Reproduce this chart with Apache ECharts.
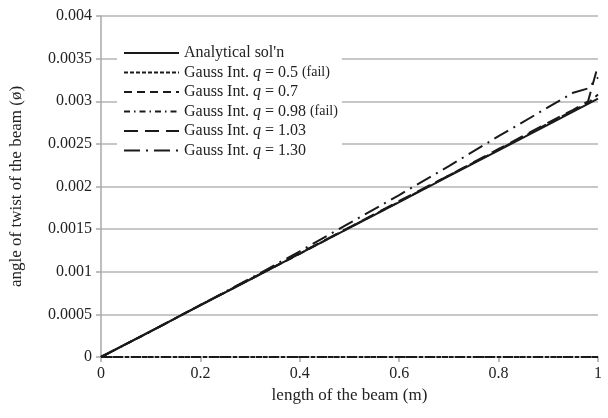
<!DOCTYPE html>
<html><head><meta charset="utf-8">
<script src="https://cdn.jsdelivr.net/npm/echarts@6/dist/echarts.min.js"></script>
<style>html,body{margin:0;padding:0;background:#fff}#c{width:608px;height:418px}</style>
</head><body><div id="c"></div>
<script>
const xs = [0, 0.1, 0.2, 0.3, 0.4, 0.5, 0.6, 0.7, 0.8, 0.9, 0.95, 0.98, 1.0];
const analytical = [0, 0.000303, 0.000606, 0.000909, 0.001212, 0.001515, 0.001818, 0.002121, 0.002424, 0.002727, 0.002879, 0.002969, 0.00303];
const gaussQ050 = [0, 0, 0, 0, 0, 0, 0, 0, 0, 0, 0, 0, 0];
const gaussQ070 = [0, 0.0003, 0.00061, 0.00091, 0.00121, 0.00152, 0.00182, 0.00213, 0.00243, 0.00274, 0.00289, 0.00298, 0.00308];
const gaussQ098 = [0, 0, 0, 0, 0, 0, 0, 0, 0, 0, 0, 0, 0];
const gaussQ103 = [0, 0.0003, 0.00061, 0.00091, 0.00122, 0.00152, 0.00183, 0.00213, 0.00244, 0.00275, 0.0029, 0.003, 0.00342];
const gaussQ130 = [0, 0.0003, 0.00061, 0.00092, 0.00124, 0.00157, 0.0019, 0.00224, 0.00259, 0.00293, 0.0031, 0.00315, 0.00328];
const seriesNames = ["Analytical sol'n", "Gauss Int. q = 0.5 (fail)", "Gauss Int. q = 0.7", "Gauss Int. q = 0.98 (fail)", "Gauss Int. q = 1.03", "Gauss Int. q = 1.30"];
const legendLabels = ["Analytical sol'n", "Gauss Int. {i|q} = 0.5 {s|(fail)}", "Gauss Int. {i|q} = 0.7", "Gauss Int. {i|q} = 0.98 {s|(fail)}", "Gauss Int. {i|q} = 1.03", "Gauss Int. {i|q} = 1.30"];
const xTicks = { min: 0, max: 1, interval: 0.2 };
const yTicks = { min: 0, max: 0.004, interval: 0.0005 };

const allY = [analytical, gaussQ050, gaussQ070, gaussQ098, gaussQ103, gaussQ130];
const dashes = ['solid', [4, 2], [8, 5], [6, 4, 1.5, 4], [14, 7], [16, 6, 2, 6]];
const font = '"Liberation Serif", "DejaVu Serif", serif';

const chart = echarts.init(document.getElementById('c'), null, { renderer: 'canvas' });
chart.setOption({
  animation: false,
  backgroundColor: '#fff',
  grid: { left: 95, right: 10, top: 16, bottom: 61, containLabel: false },
  legend: {
    orient: 'vertical', left: 117, top: 42,
    backgroundColor: '#fff', padding: [3, 4, 3, 6],
    itemWidth: 55, itemHeight: 14, itemGap: 3.5,
    data: seriesNames,
    itemStyle: { opacity: 0 },
    formatter: n => legendLabels[seriesNames.indexOf(n)],
    textStyle: { fontFamily: font, fontSize: 16, color: '#222',
      rich: { i: { fontFamily: font, fontStyle: 'italic', fontSize: 16, color: '#222' },
              s: { fontFamily: font, fontSize: 14, color: '#222' } } }
  },
  xAxis: {
    type: 'value', min: xTicks.min, max: xTicks.max, interval: xTicks.interval,
    name: 'length of the beam (m)', nameLocation: 'middle', nameGap: 24,
    nameTextStyle: { fontFamily: font, fontSize: 17, color: '#222' },
    axisLine: { show: true, lineStyle: { color: '#a8a8a8', width: 1.5 } },
    axisTick: { show: true, length: 5, lineStyle: { color: '#a8a8a8', width: 1.5 } },
    axisLabel: { fontFamily: font, fontSize: 16, color: '#222', margin: 9,
      formatter: v => String(parseFloat(v.toFixed(4))) },
    splitLine: { show: false }
  },
  yAxis: {
    type: 'value', min: yTicks.min, max: yTicks.max, interval: yTicks.interval,
    name: 'angle of twist of the beam (ø)', nameLocation: 'middle', nameGap: 76,
    nameTextStyle: { fontFamily: font, fontSize: 17, color: '#222' },
    axisLine: { show: true, lineStyle: { color: '#a8a8a8', width: 1.5 } },
    axisTick: { show: true, length: 5, lineStyle: { color: '#a8a8a8', width: 1.5 } },
    axisLabel: { fontFamily: font, fontSize: 16, color: '#222', margin: 9,
      formatter: v => String(parseFloat(v.toFixed(4))) },
    splitLine: { show: true, lineStyle: { color: '#b4b4b4', width: 1.5 } }
  },
  series: allY.map((ys, k) => ({
    name: seriesNames[k], type: 'line', showSymbol: false, symbol: 'none',
    data: xs.map((x, i) => [x, ys[i]]),
    lineStyle: { color: '#1a1a1a', width: 2, type: dashes[k] },
    itemStyle: { color: '#1a1a1a' },
    z: 10 - k
  }))
});
</script></body></html>
